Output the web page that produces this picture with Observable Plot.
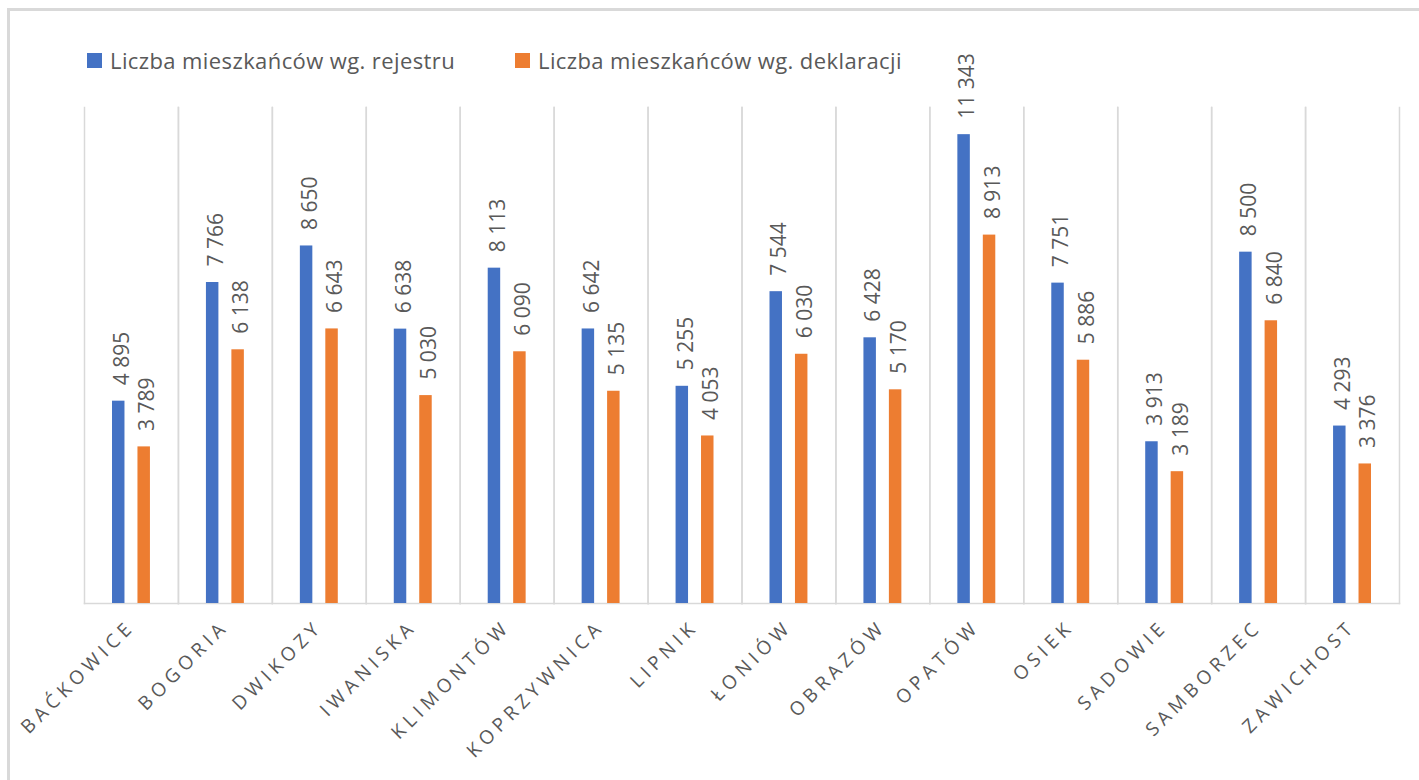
<!DOCTYPE html>
<html><head><meta charset="utf-8">
<script src="https://cdn.jsdelivr.net/npm/d3@7"></script>
<script src="https://cdn.jsdelivr.net/npm/@observablehq/plot@0.6"></script>
<style>
body{margin:0;background:#fff;font-family:"Open Sans",sans-serif;overflow:hidden;width:1419px;height:780px}
#box{position:absolute;left:7px;top:8px;width:1500px;height:900px;border:3px solid #d9d9d9;box-sizing:border-box}
.leg{position:absolute;top:45px;font-size:22px;letter-spacing:0.4px;color:#595959;white-space:nowrap;display:flex;align-items:center;z-index:2}
.sw{display:inline-block;width:15px;height:15px;margin-right:8px}
#chart{position:absolute;left:0;top:30px}
#chart g[aria-label="fx-axis tick label"] text{letter-spacing:4.8px}
</style></head>
<body>
<div id="box"></div>
<div id="chart"></div>
<div class="leg" id="leg0" style="left:87px"></div>
<div class="leg" id="leg1" style="left:515px"></div>
<script>
const categories = ["BAĆKOWICE","BOGORIA","DWIKOZY","IWANISKA","KLIMONTÓW","KOPRZYWNICA","LIPNIK","ŁONIÓW","OBRAZÓW","OPATÓW","OSIEK","SADOWIE","SAMBORZEC","ZAWICHOST"];
const rejestr = [4895,7766,8650,6638,8113,6642,5255,7544,6428,11343,7751,3913,8500,4293];
const deklaracja = [3789,6138,6643,5030,6090,5135,4053,6030,5170,8913,5886,3189,6840,3376];
const seriesNames = ["Liczba mieszkańców wg. rejestru","Liczba mieszkańców wg. deklaracji"];
const colors = ["#4472C4","#ED7D31"];

const rows = [];
categories.forEach((c,i)=>{
  rows.push({cat:c, series:seriesNames[0], value:rejestr[i]});
  rows.push({cat:c, series:seriesNames[1], value:deklaracja[i]});
});
const fmt = d3.formatLocale({thousands:" ", grouping:[3], decimal:","}).format(",d");

seriesNames.forEach((s,i)=>{
  const el = document.getElementById("leg"+i);
  el.innerHTML = `<span class="sw" style="background:${colors[i]}"></span><span>${s}</span>`;
});

const grid = {stroke:"#d9d9d9", strokeWidth:1.5};
const chart = Plot.plot({
  width:1419, height:750,
  marginTop:77, marginBottom:177, marginLeft:84, marginRight:20,
  fx:{domain:categories, padding:0, round:false, label:null},
  x:{domain:seriesNames, paddingInner:0.51, paddingOuter:1.1, round:false, axis:null},
  y:{domain:[0,12000], axis:null},
  color:{domain:seriesNames, range:colors},
  style:{fontFamily:"'Open Sans', sans-serif", background:"transparent"},
  marks:[
    Plot.frame({anchor:"left", ...grid}),
    Plot.frame({anchor:"right", ...grid}),
    Plot.frame({anchor:"bottom", ...grid}),
    Plot.barY(rows, {fx:"cat", x:"series", y:"value", fill:"series"}),
    Plot.text(rows, {fx:"cat", x:"series", y:"value", text:d=>fmt(d.value), rotate:-90, textAnchor:"start", dy:-16, dx:3.5, fill:"#595959", fontSize:21}),
    Plot.axisFx({anchor:"bottom", tickRotate:-45, tickSize:0, tickPadding:20, fontSize:19, color:"#595959", label:null})
  ]
});
document.getElementById("chart").appendChild(chart);
</script>
</body></html>
